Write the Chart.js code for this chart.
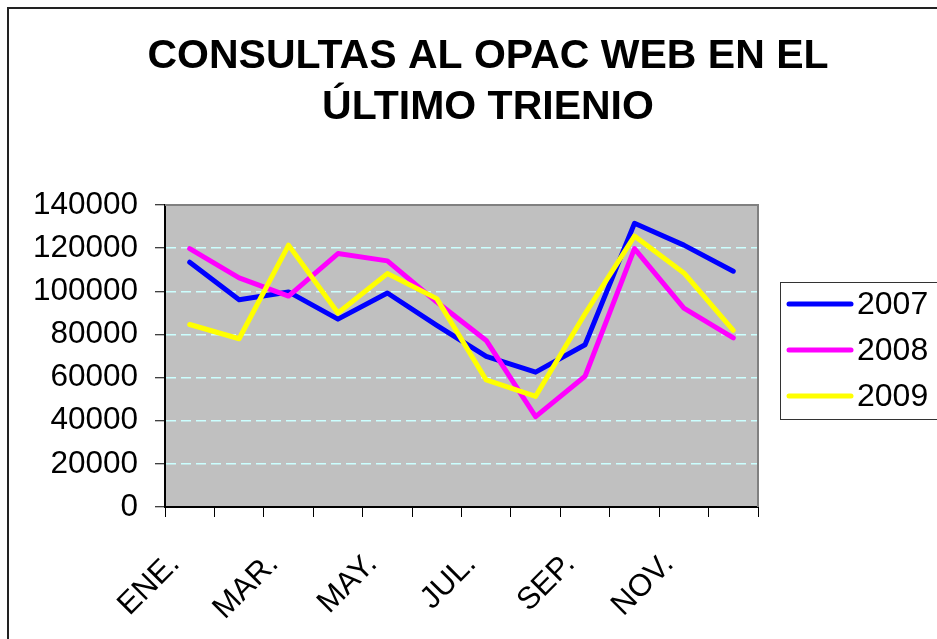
<!DOCTYPE html>
<html>
<head>
<meta charset="utf-8">
<script src="https://cdn.jsdelivr.net/npm/chart.js@4.4.1/dist/chart.umd.min.js"></script>
<style>
  html, body { margin: 0; padding: 0; background: #fff; overflow: hidden; }
  #frame { position: absolute; left: 7px; top: 7px; width: 958px; height: 700px; border: 2px solid #222; }
  canvas { display: block; }
</style>
</head>
<body>
<div id="frame"><canvas id="opacChart" width="958" height="640"></canvas></div>
<script>
// Data
const months = ['ENE.', 'FEB.', 'MAR.', 'ABR.', 'MAY.', 'JUN.', 'JUL.', 'AGO.', 'SEP.', 'OCT.', 'NOV.', 'DIC.'];
const y2007 = [113500, 96100, 99700, 87100, 99200, 84200, 69800, 62500, 75200, 131500, 121400, 109300];
const y2008 = [119800, 106200, 97800, 117500, 114100, 95000, 77200, 41900, 60600, 119800, 92200, 78400];
const y2009 = [84600, 78000, 121400, 89900, 108200, 96600, 58900, 51300, 89600, 125600, 108500, 81900];
const yTicks = [0, 20000, 40000, 60000, 80000, 100000, 120000, 140000];

const FONT = "'Liberation Sans', Arial, sans-serif";

// gray plot background + gray top/right frame
const plotArea = {
  id: 'plotArea',
  beforeDraw(chart) {
    const { ctx, chartArea: a } = chart;
    ctx.save();
    ctx.fillStyle = '#C0C0C0';
    ctx.fillRect(a.left, a.top, a.width, a.height);
    ctx.restore();
  },
  beforeDatasetsDraw(chart) {
    const { ctx, chartArea: a } = chart;
    ctx.save();
    ctx.strokeStyle = '#808080';
    ctx.lineWidth = 2;
    ctx.beginPath();
    ctx.moveTo(a.left, a.top);
    ctx.lineTo(a.right, a.top);
    ctx.lineTo(a.right, a.bottom);
    ctx.stroke();
    ctx.restore();
  }
};

// legend box like the spreadsheet one
const boxLegend = {
  id: 'boxLegend',
  afterDraw(chart) {
    const { ctx, chartArea: a } = chart;
    const left = a.right + 22;
    const top = (a.top + a.bottom) / 2 - 74;
    const rowH = 46;
    ctx.save();
    ctx.fillStyle = '#fff';
    ctx.strokeStyle = '#333';
    ctx.lineWidth = 1;
    ctx.fillRect(left, top, 175, 137);
    ctx.strokeRect(left + 0.5, top + 0.5, 175, 137);
    ctx.font = '32px ' + FONT;
    ctx.textBaseline = 'middle';
    ctx.fillStyle = '#000';
    chart.data.datasets.forEach((ds, i) => {
      const y = top + 22 + i * rowH;
      ctx.strokeStyle = ds.borderColor;
      ctx.lineWidth = 5;
      ctx.lineCap = 'round';
      ctx.beginPath();
      ctx.moveTo(left + 9, y);
      ctx.lineTo(left + 71, y);
      ctx.stroke();
      ctx.fillText(ds.label, left + 77, y + 1);
    });
    ctx.restore();
  }
};

const ctx = document.getElementById('opacChart');
new Chart(ctx, {
  type: 'line',
  data: {
    labels: months,
    datasets: [
      { label: '2007', data: y2007, borderColor: '#0000FF', order: 3 },
      { label: '2008', data: y2008, borderColor: '#FF00FF', order: 2 },
      { label: '2009', data: y2009, borderColor: '#FFFF00', order: 1 }
    ]
  },
  options: {
    responsive: false,
    animation: false,
    devicePixelRatio: 1,
    elements: {
      line: { borderWidth: 5, tension: 0, borderCapStyle: 'round', borderJoinStyle: 'round', fill: false },
      point: { radius: 0, hoverRadius: 0 }
    },
    layout: { padding: 0 },
    plugins: {
      legend: { display: false },
      tooltip: { enabled: false },
      title: {
        display: true,
        text: ['CONSULTAS AL OPAC WEB EN EL', 'ÚLTIMO TRIENIO'],
        color: '#000',
        font: { family: FONT, size: 41, weight: 'bold', lineHeight: 1.25 },
        padding: { top: 22, bottom: 71.5 }
      }
    },
    scales: {
      x: {
        type: 'category',
        offset: true,
        grid: { display: true, drawOnChartArea: false, offset: true, tickLength: 10, color: '#000', lineWidth: 1 },
        border: { color: '#000', width: 2 },
        ticks: {
          autoSkip: false,
          minRotation: 45,
          maxRotation: 45,
          labelOffset: -15,
          padding: 29,
          color: '#000',
          font: { family: FONT, size: 31 },
          callback: (v, i) => (i % 2 === 0 ? months[i] : '')
        },
        afterFit: s => { s.height = 142; }
      },
      y: {
        min: 0,
        max: 140000,
        afterBuildTicks: s => { s.ticks = yTicks.map(v => ({ value: v })); },
        grid: {
          color: c => (c.tick && (c.tick.value === 0 || c.tick.value === 140000)) ? 'rgba(0,0,0,0)' : '#CCFFFF',
          lineWidth: 1.5,
          tickLength: 10,
          tickColor: '#000',
          tickWidth: 1
        },
        border: { color: '#000', width: 2, dash: [10, 5] },
        ticks: {
          padding: 17,
          color: '#000',
          font: { family: FONT, size: 31.5 },
          callback: v => String(v)
        },
        afterFit: s => { s.width = 156; }
      },
      yR: {
        type: 'linear',
        position: 'right',
        grid: { display: false, drawTicks: false },
        border: { display: false },
        ticks: { display: false },
        afterFit: s => { s.width = 209; }
      }
    }
  },
  plugins: [plotArea, boxLegend]
});
</script>
</body>
</html>
